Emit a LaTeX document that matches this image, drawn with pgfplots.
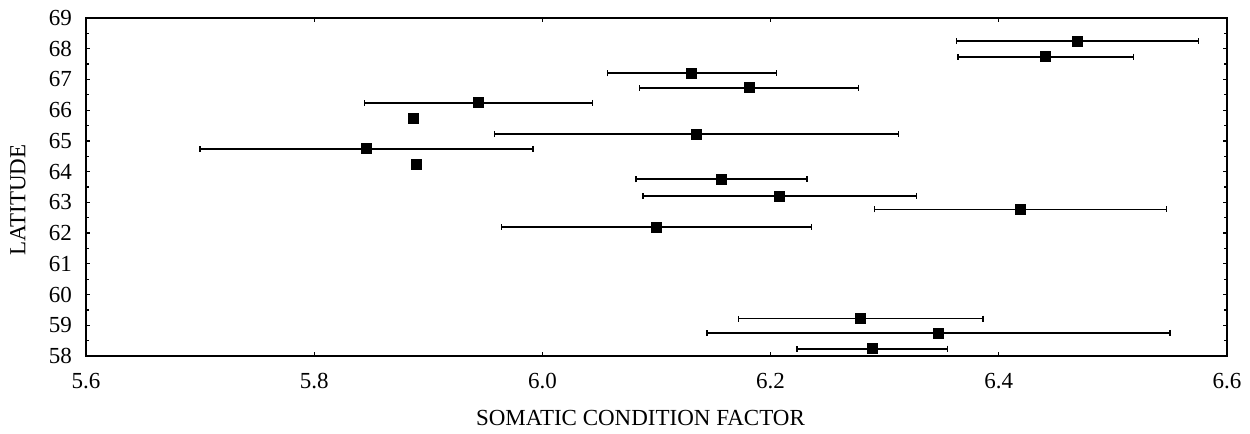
\documentclass[border=0pt]{standalone}
\usepackage{pgfplots}
\pgfplotsset{compat=1.18}
\usepackage{pgfplotstable}
\usepackage{fontspec}
\setmainfont{Liberation Serif}
\pgfplotstableread{
x y ex
6.469 68.25 0.106
6.441 67.74 0.077
6.131 67.20 0.074
6.181 66.73 0.096
5.944 66.24 0.100
5.887 65.74 0.0
6.135 65.22 0.177
5.846 64.74 0.146
5.890 64.24 0.0
6.157 63.75 0.075
6.208 63.21 0.120
6.419 62.77 0.128
6.100 62.20 0.136
6.279 59.22 0.107
6.347 58.75 0.203
6.289 58.24 0.066
}\datatable
\begin{document}
\begin{tikzpicture}
\begin{axis}[
  scale only axis,
  width=570.5pt, height=169pt,
  xmin=5.6, xmax=6.6, ymin=58, ymax=69,
  xtick={5.6,5.8,6.0,6.2,6.4,6.6},
  xticklabels={5.6,5.8,6.0,6.2,6.4,6.6},
  ytick={58,59,...,69},
  minor ytick={58.5,59.5,...,68.5},
  tick align=inside,
  major tick length=2pt, minor tick length=1.5pt,
  tick style={black, line width=0.6pt},
  axis line style={line width=0.9pt},
  /pgf/number format/assume math mode=true,
  ticklabel style={font=\fontsize{11.5}{13}\selectfont},
  xticklabel style={yshift=-5pt},
  yticklabel style={xshift=-3.5pt},
  xlabel={SOMATIC CONDITION FACTOR},
  ylabel={LATITUDE},
  label style={font=\fontsize{11.5}{13}\selectfont},
  xlabel style={at={(axis description cs:0.486,0)}, anchor=center, yshift=-31pt},
  ylabel style={at={(axis description cs:-0.0596,0.4615)}, anchor=center},
]
\addplot[black, only marks, mark=square*, mark size=2.5pt,
  error bars/.cd, x dir=both, x explicit,
  error bar style={line width=0.9pt},
  error mark options={rotate=90, mark size=1.5pt, line width=0.8pt}]
  table[x=x, y=y, x error=ex] {\datatable};
\end{axis}
\path (-43pt,-39pt) rectangle (582pt,178pt);
\end{tikzpicture}
\end{document}
